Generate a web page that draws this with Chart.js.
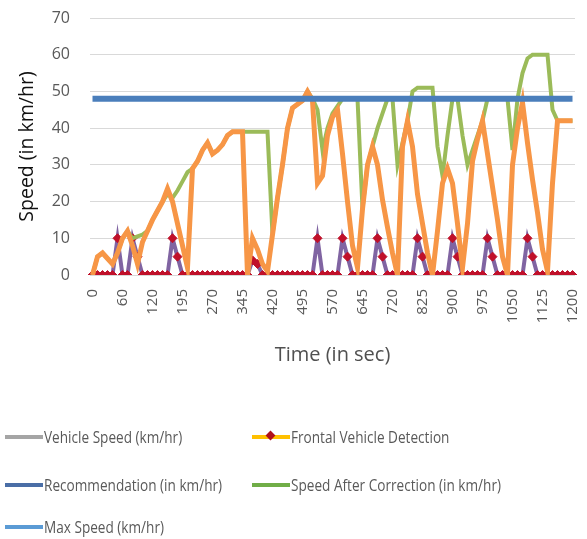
<!DOCTYPE html>
<html>
<head>
<meta charset="utf-8">
<script src="https://cdn.jsdelivr.net/npm/chart.js@4.4.1/dist/chart.umd.min.js"></script>
<style>
  body { margin: 0; background: #fff; }
  #wrap { position: relative; width: 587px; height: 539px; overflow: hidden; }
  #legend { position: absolute; left: 0; top: 0; width: 587px; height: 539px; pointer-events: none; }
  .item { position: absolute; display: flex; align-items: center; height: 20px;
          font-family: "Liberation Sans Narrow", "Open Sans", sans-serif;
          font-size: 16px; color: #595959; white-space: nowrap; }
  .item span { display: inline-block; transform: scaleX(0.85); transform-origin: left center; }
  .mark { position: relative; width: 38px; height: 4px; margin-right: 1px; }
  .dia { position: absolute; left: 15px; top: -3px; width: 7px; height: 7px; background: #b0101a; transform: rotate(45deg); }
</style>
</head>
<body>
<div id="wrap">
  <canvas id="speedChart" width="587" height="380"></canvas>
  <div id="legend"></div>
</div>
<script>
const tickLabels = ['0', '60', '120', '195', '270', '345', '420', '495', '570', '645', '720', '825', '900', '975', '1050', '1125', '1200'];
const pointsPerTick = 6;

const vehicleSpeed = [0, 5, 6, 4.5, 3, 6, 10, 12, 8, 3, 9, 12, 15, 17.5, 20, 23.5, 20, 14, 8, 2,
  29, 31, 34, 36, 33, 34, 35.5, 38, 39, 39, 39, 0, 10, 7, 3, 1, 11, 21, 30, 40,
  45.5, 46.5, 47.5, 50, 47.5, 25, 27, 38, 43, 45, 33, 20, 8, 2, 18, 30, 35, 30, 20.5, 13,
  6, 0, 35, 42, 35, 22, 14, 6, 0, 12, 25, 29, 25, 14, 2, 14, 31, 37, 42, 33,
  24, 15, 5, 0, 30, 40, 47, 36, 26, 17, 7, 1, 25, 42, 42, 42, 42];

const speedAfterCorrection = [0, 5, 6, 4.5, 3, 6, 10, 12, 10, 10.5, 11, 12, 15, 17.5, 20, 22, 21, 23, 25.5, 28,
  29, 31, 34, 36, 33, 34, 35.5, 38, 39, 39, 39, 39, 39, 39, 39, 39, 11, 21, 30, 40,
  45.5, 46.5, 47.5, 50, 48, 45, 34, 40, 44, 46, 48, 48, 48, 48, 18, 30, 35, 40, 44, 48,
  48, 30, 36, 42, 50, 51, 51, 51, 51, 35, 27, 38, 48, 48, 38, 30, 34, 38, 42, 48,
  48, 48, 48, 48, 34, 48, 55, 59, 60, 60, 60, 60, 45, 42, 42, 42, 42];

const frontalDetection = [0, 0, 0, 0, 0, 10, 0, 0, 10, 5, 0, 0, 0, 0, 0, 0, 10, 5, 0, 0,
  0, 0, 0, 0, 0, 0, 0, 0, 0, 0, 0, 0, 4, 3, 0, 0, 0, 0, 0, 0,
  0, 0, 0, 0, 0, 10, 0, 0, 0, 0, 10, 5, 0, 0, 0, 0, 0, 10, 5, 0,
  0, 0, 0, 0, 0, 10, 5, 0, 0, 0, 0, 0, 10, 5, 0, 0, 0, 0, 0, 10,
  5, 0, 0, 0, 0, 0, 0, 10, 5, 0, 0, 0, 0, 0, 0, 0, 0];

const recommendation = [48, 48, 48, 48, 48, 48, 48, 48, 48, 48, 48, 48, 48, 48, 48, 48, 48, 48, 48, 48,
  48, 48, 48, 48, 48, 48, 48, 48, 48, 48, 48, 48, 48, 48, 48, 48, 48, 48, 48, 48,
  48, 48, 48, 48, 48, 48, 48, 48, 48, 48, 48, 48, 48, 48, 48, 48, 48, 48, 48, 48,
  48, 48, 48, 48, 48, 48, 48, 48, 48, 48, 48, 48, 48, 48, 48, 48, 48, 48, 48, 48,
  48, 48, 48, 48, 48, 48, 48, 48, 48, 48, 48, 48, 48, 48, 48, 48, 48];

const legendItems = [
  { text: 'Vehicle Speed (km/hr)', color: '#a5a5a5', x: 5, y: 427 },
  { text: 'Frontal Vehicle Detection', color: '#ffc000', x: 252, y: 427, diamond: true },
  { text: 'Recommendation (in km/hr)', color: '#4a6ea6', x: 5, y: 475 },
  { text: 'Speed After Correction (in km/hr)', color: '#70ad47', x: 252, y: 475 },
  { text: 'Max Speed (km/hr)', color: '#5b9bd5', x: 5, y: 517 }
];

const categories = vehicleSpeed.map((v, i) => i % pointsPerTick === 0 ? tickLabels[i / pointsPerTick] : '');

function renderLegend(container) {
  container.innerHTML = legendItems.map(it => `
    <div class="item" style="left:${it.x}px;top:${it.y}px">
      <div class="mark" style="background:${it.color}">${it.diamond ? '<div class="dia"></div>' : ''}</div>
      <span>${it.text}</span>
    </div>`).join('');
}

function lineSet(label, data, color, width) {
  return { label, data, borderColor: color, backgroundColor: color, borderWidth: width, pointRadius: 0, tension: 0, fill: false };
}

// drop the label overhang padding so the plot area is set by layout.padding only
function noOverhang(s) {
  s.paddingTop = 0;
  s.paddingBottom = 0;
  s.paddingLeft = 0;
  s.paddingRight = 0;
}

function renderChart() {
  const ctx = document.getElementById('speedChart').getContext('2d');
  new Chart(ctx, {
    type: 'line',
    data: {
      labels: categories,
      datasets: [
        lineSet('Recommendation (in km/hr)', recommendation, '#4a7ebb', 6),
        lineSet('Vehicle Speed (km/hr)', vehicleSpeed, '#f79646', 5),
        lineSet('Speed After Correction (in km/hr)', speedAfterCorrection, '#9bbb59', 4),
        {
          label: 'Frontal Vehicle Detection',
          data: frontalDetection,
          borderColor: '#8064a2',
          borderWidth: 4,
          tension: 0,
          pointStyle: 'rectRot',
          pointRadius: 4.5,
          pointBackgroundColor: '#c0102a',
          pointBorderColor: '#c0102a',
          pointBorderWidth: 1
        }
      ]
    },
    options: {
      responsive: false,
      animation: false,
      layout: { padding: { top: 18, right: 12, left: 0, bottom: 0 } },
      plugins: { legend: { display: false }, tooltip: { enabled: false } },
      scales: {
        x: {
          type: 'category',
          offset: true,
          grid: { display: false },
          border: { display: false },
          afterFit: s => { s.height = 105; noOverhang(s); },
          ticks: {
            autoSkip: false, maxRotation: 90, minRotation: 90, padding: 6,
            color: '#595959', font: { family: 'Open Sans', size: 15 }
          },
          title: { display: true, text: 'Time (in sec)', color: '#505050', padding: { bottom: 13 }, font: { family: 'Open Sans', size: 20 } }
        },
        y: {
          min: 0, max: 70,
          afterFit: s => { s.width = 90; noOverhang(s); },
          grid: { color: '#d9d9d9', drawTicks: false },
          border: { display: false },
          ticks: { stepSize: 10, padding: 20, color: '#595959', font: { family: 'Open Sans', size: 16 } },
          title: { display: true, text: 'Speed (in km/hr)', color: '#111', padding: { top: 16 }, font: { family: 'Open Sans', size: 19.5 } }
        }
      }
    }
  });
}

renderChart();
renderLegend(document.getElementById('legend'));
</script>
</body>
</html>
